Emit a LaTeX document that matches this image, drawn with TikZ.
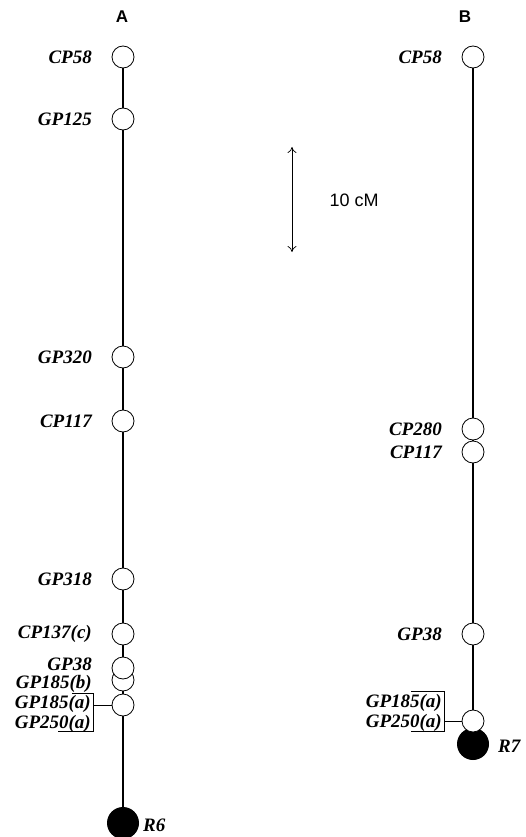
\documentclass[tikz,border=0pt]{standalone}
\usepackage{fontspec}
\setmainfont{Liberation Serif}
\setsansfont{Liberation Sans}
\usetikzlibrary{arrows.meta,positioning,backgrounds}
\tikzset{
  locus/.style={circle,draw,fill=white,line width=0.8pt,minimum size=22pt,inner sep=0pt},
  gene/.style={circle,fill=black,minimum size=32pt,inner sep=0pt},
  mklabel/.style={font=\fontsize{19}{19}\selectfont\bfseries\itshape,inner sep=0pt},
  chrom/.style={line width=2pt},
  brace/.style={line width=0.7pt},
}
% marker on a chromosome: name, x of axis, y, label
\newcommand{\marker}[4]{\node[locus] (#1) at (#2,#3) {};
  \node[mklabel,anchor=east] (#1-l) at ({#2-31},#3) {#4};}

\begin{document}
\begin{tikzpicture}[x=1pt,y=-1pt]
  \useasboundingbox (0,0) rectangle (526,837);
  \node[font=\sffamily\bfseries\fontsize{17}{17}\selectfont] (titleA) at (122,17) {A};
  \node[font=\sffamily\bfseries\fontsize{17}{17}\selectfont] (titleB) at (465,17) {B};
  % chromosome A
  \marker{aCP58}{123}{57}{CP58}
  \marker{aGP125}{123}{119}{GP125}
  \marker{aGP320}{123}{357}{GP320}
  \marker{aCP117}{123}{421}{CP117}
  \marker{aGP318}{123}{579}{GP318}
  \marker{aCP137}{123}{634}{CP137(c)}
  \node[locus] (aGP185b) at (123,680) {};
  \node[locus] (aGP38) at (123,668) {};
  \node[mklabel,anchor=east] (aGP38-l) at (92,664) {GP38};
  \node[mklabel,anchor=east] (aGP185b-l) at (92,684) {GP185(b)};
  \node[locus] (aGP185a) at (123,705) {};
  \node[mklabel,anchor=east] (aGP185a-l) at (91,704) {GP185(a)};
  \node[mklabel,anchor=east] (aGP250a-l) at (91,724) {GP250(a)};
  \node[gene] (aR6) at (123,823) {};
  \node[mklabel,anchor=west] (aR6-l) at (143,825) {R6};
  \begin{scope}[on background layer]
    \draw[chrom] (aCP58) -- (aR6);
  \end{scope}
  \draw[brace] (72,693) -- (93,693) -- (93,731) -- (58,731);
  \coordinate (aBr) at (93,705);
  \draw[brace] (aBr) -- (aGP185a);
  % chromosome B
  \marker{bCP58}{473}{57}{CP58}
  \marker{bCP280}{473}{429}{CP280}
  \marker{bCP117}{473}{452}{CP117}
  \marker{bGP38}{473}{634}{GP38}
  \node[gene] (bR7) at (473,744) {};
  \node[locus] (bGP185a) at (473,721) {};
  \node[mklabel,anchor=east] (bGP185a-l) at (442,703) {GP185(a)};
  \node[mklabel,anchor=east] (bGP250a-l) at (442,723) {GP250(a)};
  \node[mklabel,anchor=west] (bR7-l) at (498,746) {R7};
  \begin{scope}[on background layer]
    \draw[chrom] (bCP58) -- (bR7);
  \end{scope}
  \draw[brace] (411,691) -- (444,691) -- (444,731) -- (411,731);
  \coordinate (bBr) at (444,721);
  \draw[brace] (bBr) -- (bGP185a);
  % scale bar
  \coordinate (barTop) at (292,147);
  \coordinate (barBot) at (292,252);
  \draw[{To[length=6pt,width=9pt]}-{To[length=6pt,width=9pt]},line width=0.7pt] (barTop) -- (barBot);
  \node[font=\sffamily\fontsize{18}{18}\selectfont,anchor=west] (barL) at (326,200) {10 cM};
\end{tikzpicture}
\end{document}
